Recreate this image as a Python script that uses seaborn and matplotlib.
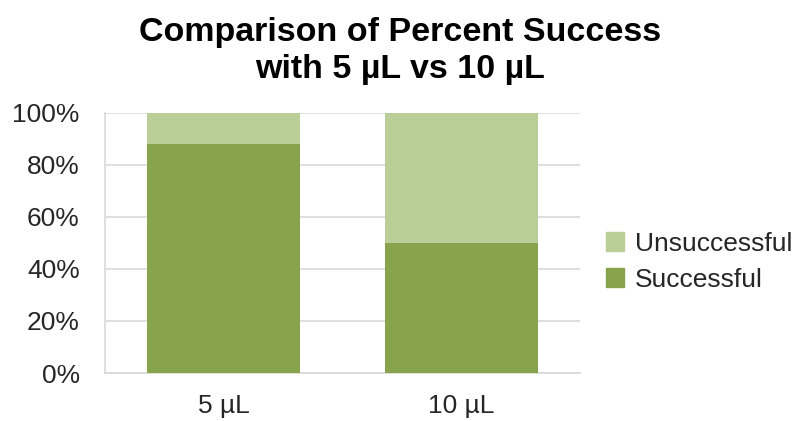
import matplotlib
matplotlib.use("Agg")
import matplotlib.pyplot as plt
import matplotlib.patches as mpatches
import seaborn as sns
import pandas as pd

# data
volumes = ["5 µL", "10 µL"]
successful = [88, 50]
unsuccessful = [12, 50]
y_ticks = [0, 20, 40, 60, 80, 100]

dark_green = "#87A34C"
light_green = "#B9CF97"

sns.set_theme(style="white")
plt.rcParams['font.family'] = ['Liberation Sans', 'DejaVu Sans']

df = pd.DataFrame({"Volume": volumes, "Successful": successful, "Unsuccessful": unsuccessful})
df["Total"] = df["Successful"] + df["Unsuccessful"]

fig = plt.figure(figsize=(8, 4.21), dpi=100)
ax = fig.add_axes([0.131, 0.114, 0.594, 0.618])

# stacked bars: total drawn in light, successful on top in dark
sns.barplot(data=df, x="Volume", y="Total", color=light_green, width=0.645,
            saturation=1, linewidth=0, ax=ax, zorder=3)
sns.barplot(data=df, x="Volume", y="Successful", color=dark_green, width=0.645,
            saturation=1, linewidth=0, ax=ax, zorder=3)

ax.set_ylim(0, 100)
ax.set_yticks(y_ticks)
ax.set_yticklabels([f"{t}%" for t in y_ticks])
ax.set_xlabel("")
ax.set_ylabel("")
ax.grid(axis="y", color="#D9D9D9", linewidth=1.2, zorder=0)
ax.set_axisbelow(True)
for side in ["top", "right"]:
    ax.spines[side].set_visible(False)
for side in ["left", "bottom"]:
    ax.spines[side].set_color("#D9D9D9")
    ax.spines[side].set_linewidth(1.2)
ax.tick_params(axis="both", length=0, labelsize=19, colors="#262626")
ax.tick_params(axis="y", pad=18)
ax.tick_params(axis="x", pad=15)

fig.suptitle("Comparison of Percent Success\nwith 5 µL vs 10 µL", fontsize=24.5,
             fontweight="bold", x=0.5, y=0.96, color="black", linespacing=1.25)

handles = [mpatches.Patch(color=light_green, label="Unsuccessful"),
           mpatches.Patch(color=dark_green, label="Successful")]
fig.legend(handles=handles, loc="center left", bbox_to_anchor=(0.757, 0.378),
           frameon=False, fontsize=19, handlelength=0.7, handleheight=0.7,
           handletextpad=0.4, labelspacing=0.45, borderpad=0, borderaxespad=0,
           labelcolor="#262626")

fig.savefig("out.png", dpi=100)
